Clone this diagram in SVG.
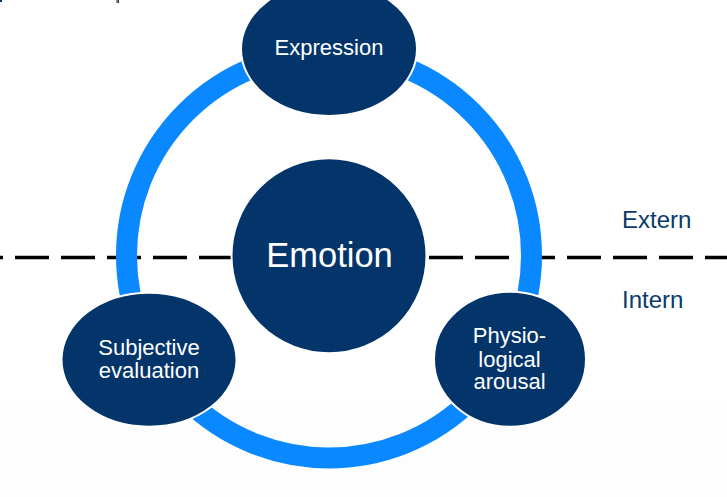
<svg xmlns="http://www.w3.org/2000/svg" width="727" height="497" viewBox="0 0 727 497">
  <style>
    .node { fill: #03356a; stroke: #ffffff; stroke-width: 2; }
    .lbl { font-family: "Liberation Sans", Arial, sans-serif; fill: #ffffff; text-anchor: middle; }
    .side { font-family: "Liberation Sans", Arial, sans-serif; fill: #0b3a6b; font-size: 24px; }
  </style>
  <rect x="0" y="0" width="727" height="497" fill="#ffffff"/>
  <rect x="0" y="406" width="727" height="91" fill="#fdfdfd"/>
  <rect x="0" y="0" width="2" height="2" fill="#03356a"/>
  <rect x="116" y="0" width="1.5" height="3" fill="#e07b1a"/>
  <rect x="117.5" y="0" width="1.5" height="3" fill="#03356a"/>

  <g id="connectors">
    <line x1="0" y1="257.5" x2="727" y2="257.5" stroke="#000000" stroke-width="3.5" stroke-dasharray="34 12" stroke-dashoffset="31"/>
    <circle cx="329" cy="255.5" r="202.5" fill="none" stroke="#0a88ff" stroke-width="21"/>
  </g>

  <g id="emotion">
    <circle class="node" cx="329" cy="255.7" r="97.5"/>
    <text class="lbl" x="329.5" y="266.5" font-size="34.5">Emotion</text>
  </g>
  <g id="expression">
    <ellipse class="node" cx="329" cy="49" rx="88" ry="67"/>
    <text class="lbl" x="329" y="55" font-size="22">Expression</text>
  </g>
  <g id="subjective-evaluation">
    <ellipse class="node" cx="149" cy="359.7" rx="87.5" ry="67"/>
    <text class="lbl" x="149" y="355" font-size="22">Subjective</text>
    <text class="lbl" x="149" y="378" font-size="22">evaluation</text>
  </g>
  <g id="physiological-arousal">
    <ellipse class="node" cx="510" cy="359.2" rx="76" ry="67.5"/>
    <text class="lbl" x="509.5" y="343.3" font-size="22">Physio-</text>
    <text class="lbl" x="509.5" y="366.5" font-size="22">logical</text>
    <text class="lbl" x="509.5" y="389.3" font-size="22">arousal</text>
  </g>

  <text class="side" x="622" y="228.3">Extern</text>
  <text class="side" x="622" y="308.3">Intern</text>
</svg>
